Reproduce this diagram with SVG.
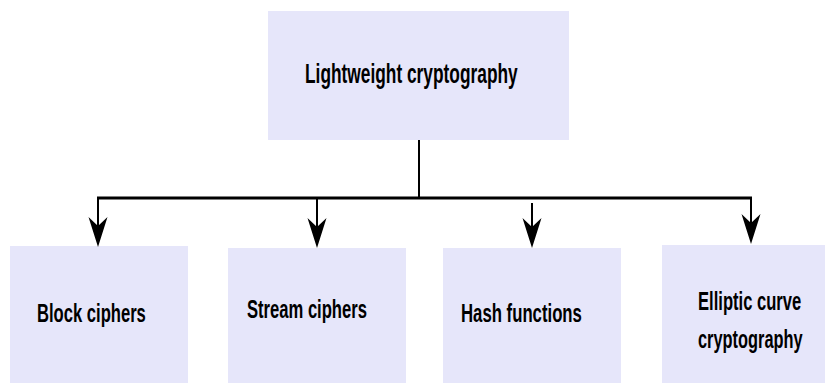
<svg xmlns="http://www.w3.org/2000/svg" width="825" height="383" viewBox="0 0 825 383">
<style>
.box{fill:#E6E6FA;stroke:none}
.lbl{font-family:"Liberation Sans",Arial,sans-serif;font-weight:bold;fill:#000;font-size:26px}
.ln{stroke:#000;stroke-width:2;fill:none}
.ah{fill:#000}
</style>
<rect width="825" height="383" fill="#fff"/>
<g id="root">
<rect class="box" x="268" y="11" width="301" height="129"/>
<text class="lbl" transform="translate(305,83) scale(0.642,1)" style="font-size:27px">Lightweight cryptography</text>
</g>
<g id="block">
<rect class="box" x="10" y="246" width="178" height="137"/>
<text class="lbl" transform="translate(37,322) scale(0.639,1)">Block ciphers</text>
</g>
<g id="stream">
<rect class="box" x="228" y="248" width="178" height="135"/>
<text class="lbl" transform="translate(247,318) scale(0.639,1)">Stream ciphers</text>
</g>
<g id="hash">
<rect class="box" x="443" y="248" width="178" height="135"/>
<text class="lbl" transform="translate(461,322) scale(0.644,1)">Hash functions</text>
</g>
<g id="ecc">
<rect class="box" x="662" y="245" width="163" height="138"/>
<text class="lbl" transform="translate(698,310) scale(0.638,1)">Elliptic curve</text>
<text class="lbl" transform="translate(698,348) scale(0.63,1)">cryptography</text>
</g>
<g id="connectors">
<line class="ln" x1="419" y1="140" x2="419" y2="197"/>
<line x1="97" y1="198" x2="752" y2="198" stroke="#000" stroke-width="3"/>
<line class="ln" x1="98" y1="198" x2="98" y2="232"/>
<path class="ah" d="M98,247 L88.5,217 L98,226 L107.5,217 Z"/>
<line class="ln" x1="317" y1="198" x2="317" y2="232"/>
<path class="ah" d="M317,248 L307.5,218 L317,227 L326.5,218 Z"/>
<line class="ln" x1="532" y1="203" x2="532" y2="232"/>
<path class="ah" d="M532,248 L522.5,218 L532,227 L541.5,218 Z"/>
<line class="ln" x1="751" y1="198" x2="751" y2="228"/>
<path class="ah" d="M751,244 L741.5,214 L751,223 L760.5,214 Z"/>
</g>
</svg>
